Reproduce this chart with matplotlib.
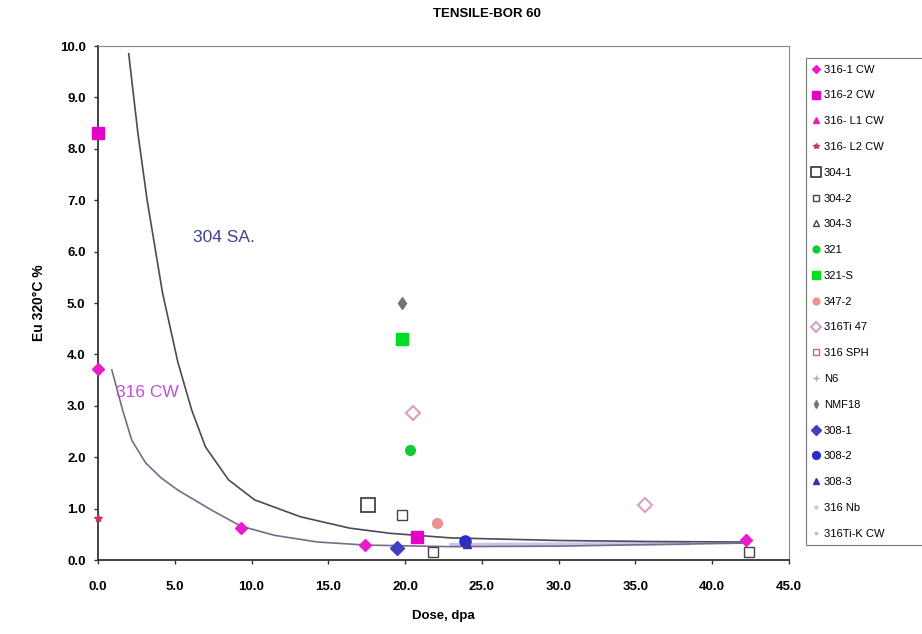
import matplotlib
matplotlib.use("Agg")
import matplotlib.pyplot as plt
from matplotlib.ticker import FormatStrFormatter

plt.rcParams['font.family'] = ['Liberation Sans', 'DejaVu Sans']

# trend curves
sa304_x = [2.0, 2.6, 3.2, 4.2, 5.2, 6.1, 7.0, 8.5, 10.2, 13.2, 16.4, 19.0, 23.0, 30.0, 36.0, 42.3]
sa304_y = [9.85, 8.3, 7.0, 5.2, 3.85, 2.92, 2.2, 1.56, 1.17, 0.84, 0.62, 0.52, 0.43, 0.38, 0.36, 0.35]
cw316_x = [0.9, 1.6, 2.2, 3.1, 4.1, 5.2, 7.4, 9.3, 11.5, 14.3, 17.5, 23.0, 30.0, 36.0, 42.3]
cw316_y = [3.7, 2.92, 2.33, 1.89, 1.6, 1.36, 0.97, 0.66, 0.48, 0.35, 0.29, 0.26, 0.27, 0.30, 0.33]

# series: label, x, y
labels = ['316-1 CW', '316-2 CW', '316- L1 CW', '316- L2 CW', '304-1', '304-2', '304-3',
          '321', '321-S', '347-2', '316Ti 47', '316 SPH', 'N6', 'NMF18',
          '308-1', '308-2', '308-3', '316 Nb', '316Ti-K CW']
xs = [[0, 9.3, 17.4, 42.2], [0, 20.8], [], [0], [17.6], [19.8, 21.8, 42.4], [],
      [20.3], [19.8], [22.1], [20.5, 35.6], [], [], [19.8],
      [19.5], [23.9], [24.0], [], []]
ys = [[3.72, 0.62, 0.29, 0.38], [8.3, 0.45], [], [0.82], [1.07], [0.88, 0.16, 0.15], [],
      [2.14], [4.3], [0.72], [2.86, 1.07], [], [], [5.0],
      [0.23], [0.37], [0.31], [], []]

styles = [
    dict(marker='D', color='#e81ccc', ms=6),
    dict(marker='s', color='#e400c8', ms=8),
    dict(marker='^', color='#e020c0', ms=6),
    dict(marker='*', color='#cc3366', ms=6),
    dict(marker='s', color='#333333', mfc='none', ms=10, mew=1.2),
    dict(marker='s', color='#444444', mfc='none', ms=7, mew=1.0),
    dict(marker='^', color='#444444', mfc='none', ms=6, mew=1.0),
    dict(marker='o', color='#11cc33', ms=7),
    dict(marker='s', color='#00dd22', ms=8),
    dict(marker='o', color='#f09090', ms=7),
    dict(marker='D', color='#d8a0c8', mfc='none', ms=7, mew=1.5),
    dict(marker='s', color='#cc6677', mfc='none', ms=6, mew=1.0),
    dict(marker='+', color='#aaaaaa', ms=6),
    dict(marker='d', color='#777080', ms=6),
    dict(marker='D', color='#4040c0', ms=7),
    dict(marker='o', color='#2b2bc8', ms=8),
    dict(marker='^', color='#3333aa', ms=6),
    dict(marker='.', color='#cccccc', ms=6),
    dict(marker='s', color='#bbbbbb', ms=3),
]

fig = plt.figure(figsize=(9.22, 6.34), dpi=100)
ax = fig.add_axes([0.1063, 0.1167, 0.7494, 0.8107])

ax.plot(sa304_x, sa304_y, color='#4a4a5a', lw=1.2, zorder=2)
ax.plot(cw316_x, cw316_y, color='#7a6a88', lw=1.2, zorder=2)
ax.plot([23.0, 38.5], [0.30, 0.32], color='#b8a8e8', lw=2.5, alpha=0.7, zorder=1)

for lab, x, y, st in zip(labels, xs, ys, styles):
    ax.plot(x, y, ls='none', label=lab, zorder=3, clip_on=False, **st)

ax.text(6.2, 6.28, '304 SA.', color='#404090', fontsize=12.5, va='center')
ax.text(1.2, 3.25, '316 CW', color='#c050d8', fontsize=12.5, va='center')

ax.set_xlim(0, 45)
ax.set_ylim(0, 10)
ax.set_xticks(range(0, 50, 5))
ax.set_yticks(range(0, 11))
ax.xaxis.set_major_formatter(FormatStrFormatter('%.1f'))
ax.yaxis.set_major_formatter(FormatStrFormatter('%.1f'))
ax.tick_params(labelsize=9.5, length=3, width=1, color='#333333')
ax.tick_params(axis='x', pad=12)
ax.tick_params(axis='y', pad=6)
for t in ax.get_xticklabels() + ax.get_yticklabels():
    t.set_fontweight('bold')
for s in ['left', 'bottom']:
    ax.spines[s].set_color('#333333')
    ax.spines[s].set_linewidth(1.3)
for s in ['top', 'right']:
    ax.spines[s].set_color('#888888')
    ax.spines[s].set_linewidth(0.8)

ax.set_xlabel('Dose, dpa', fontsize=9.5, fontweight='bold', labelpad=12)
ax.set_ylabel('Eu 320°C %', fontsize=10, fontweight='bold', labelpad=10)
fig.text(487 / 922, 1 - 14 / 634, 'TENSILE-BOR 60', fontsize=9.5, fontweight='bold',
         ha='center', va='center')

leg = ax.legend(loc='upper left', bbox_to_anchor=(806 / 922, 1 - 58 / 634, 0.2, 0),
                bbox_transform=fig.transFigure, mode='expand', fontsize=8, frameon=True,
                fancybox=False, edgecolor='#555555', borderaxespad=0,
                labelspacing=1.42, handlelength=0.6, handletextpad=0.4,
                markerscale=0.7, borderpad=0.6)
leg.get_frame().set_linewidth(0.8)

fig.savefig('out.png', dpi=100)
